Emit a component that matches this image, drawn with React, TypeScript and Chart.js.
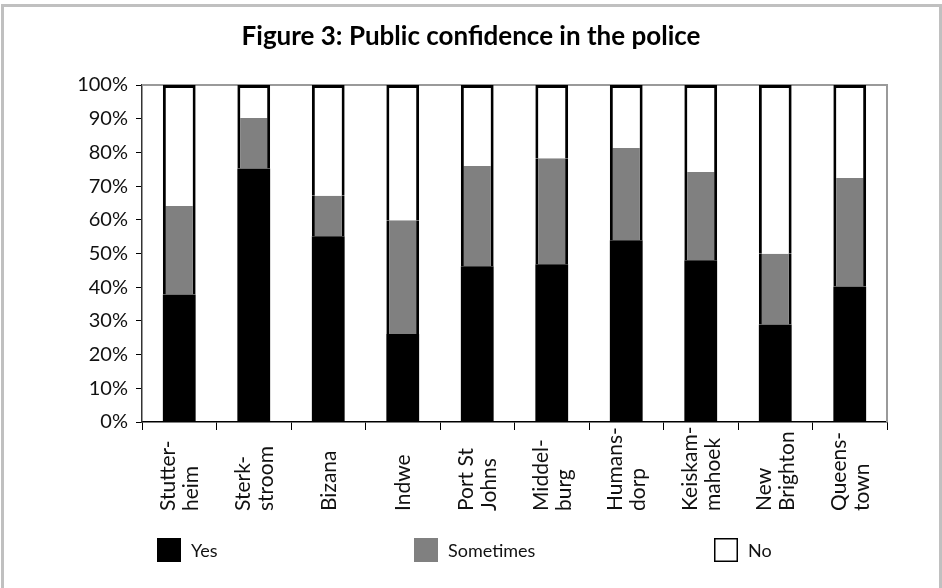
import React, { useEffect, useRef } from "react";
import { Chart, registerables } from "chart.js";

Chart.register(...registerables);

const categories: string[][] = [
  ["Stutter-", "heim"],
  ["Sterk-", "stroom"],
  ["Bizana"],
  ["Indwe"],
  ["Port St", "Johns"],
  ["Middel-", "burg"],
  ["Humans-", "dorp"],
  ["Keiskam-", "mahoek"],
  ["New", "Brighton"],
  ["Queens-", "town"],
];

const yesValues = [37.8, 75.2, 55.1, 26.1, 46.2, 46.8, 53.9, 48.0, 28.9, 40.2];
const sometimesValues = [26.3, 15.0, 12.0, 33.8, 29.8, 31.5, 27.4, 26.2, 21.0, 32.2];
const noValues = [35.9, 9.8, 32.9, 40.1, 24.0, 21.7, 18.7, 25.8, 50.1, 27.6];

const yTicks = [0, 10, 20, 30, 40, 50, 60, 70, 80, 90, 100];

const seriesNames = ["Yes", "Sometimes", "No"];
const titleText = "Figure 3: Public confidence in the police";

const FONT = "Lato, 'Open Sans', sans-serif";

export default function App() {
  const ref = useRef<HTMLCanvasElement | null>(null);

  useEffect(() => {
    document.body.style.margin = "0";
    const canvas = ref.current;
    if (!canvas) return;

    const framePlugin = {
      id: "framePlugin",
      beforeDraw(chart: any) {
        const ctx = chart.ctx;
        ctx.save();
        ctx.fillStyle = "#ffffff";
        ctx.fillRect(0, 0, chart.width, chart.height);
        ctx.strokeStyle = "#c0c0c0";
        ctx.lineWidth = 3;
        ctx.beginPath();
        ctx.moveTo(2.5, chart.height);
        ctx.lineTo(2.5, 5.5);
        ctx.lineTo(chart.width - 1.5, 5.5);
        ctx.lineTo(chart.width - 1.5, chart.height);
        ctx.stroke();
        // title
        ctx.fillStyle = "#000";
        ctx.font = `bold 26px ${FONT}`;
        ctx.textAlign = "center";
        ctx.textBaseline = "middle";
        ctx.fillText(titleText, chart.width / 2, 37);
        ctx.restore();
      },
      beforeDatasetsDraw(chart: any) {
        const { ctx, chartArea } = chart;
        ctx.save();
        ctx.strokeStyle = "#9a9a9a";
        ctx.lineWidth = 2;
        ctx.beginPath();
        ctx.moveTo(chartArea.left, chartArea.top);
        ctx.lineTo(chartArea.right, chartArea.top);
        ctx.lineTo(chartArea.right, chartArea.bottom);
        ctx.stroke();
        ctx.restore();
      },
      afterDraw(chart: any) {
        const { ctx } = chart;
        const xScale = chart.scales.x;
        // rotated category labels, start-aligned at the bottom
        ctx.save();
        ctx.fillStyle = "#111";
        ctx.font = `21px ${FONT}`;
        ctx.textAlign = "left";
        ctx.textBaseline = "alphabetic";
        const pitch = 23;
        const capHalf = 7.6;
        const baseY = xScale.top + 89;
        categories.forEach((lines, i) => {
          const cx = xScale.getPixelForValue(i);
          ctx.save();
          ctx.translate(cx, baseY);
          ctx.rotate(-Math.PI / 2);
          lines.forEach((line, j) => {
            const off = (j - (lines.length - 1) / 2) * pitch + capHalf;
            ctx.fillText(line, 0, off);
          });
          ctx.restore();
        });
        ctx.restore();

        // legend
        const boxX = [157, 414, 714];
        const boxY = 538;
        const box = 24;
        ctx.save();
        ctx.font = `18px ${FONT}`;
        ctx.textBaseline = "middle";
        ctx.textAlign = "left";
        chart.data.datasets.forEach((ds: any, i: number) => {
          const x = boxX[i];
          ctx.fillStyle = ds.backgroundColor;
          ctx.fillRect(x, boxY, box, box);
          if (ds.backgroundColor === "#ffffff") {
            ctx.strokeStyle = "#000";
            ctx.lineWidth = 1.5;
            ctx.strokeRect(x + 0.75, boxY + 0.75, box - 1.5, box - 1.5);
          }
          ctx.fillStyle = "#111";
          ctx.fillText(ds.label, x + box + 10, boxY + box / 2 + 1);
        });
        ctx.restore();
      },
    };

    const chart = new Chart(canvas, {
      type: "bar",
      data: {
        labels: categories.map((c) => c.join(" ")),
        datasets: [
          {
            label: seriesNames[0],
            data: yesValues,
            backgroundColor: "#000000",
            borderColor: "#000000",
            borderWidth: 0,
            borderSkipped: false,
          },
          {
            label: seriesNames[1],
            data: sometimesValues,
            backgroundColor: "#808080",
            borderColor: "#000000",
            borderWidth: { left: 3, right: 3, top: 0, bottom: 0 },
            borderSkipped: false,
          },
          {
            label: seriesNames[2],
            data: noValues,
            backgroundColor: "#ffffff",
            borderColor: "#000000",
            borderWidth: { left: 3, right: 3, top: 3, bottom: 0 },
            borderSkipped: false,
          },
        ],
      },
      options: {
        responsive: false,
        animation: false,
        devicePixelRatio: 1,
        layout: { padding: { left: 0, right: 55, top: 85, bottom: 0 } },
        datasets: {
          bar: { barPercentage: 0.44, categoryPercentage: 1.0 },
        },
        plugins: {
          legend: { display: false },
          tooltip: { enabled: false },
          title: { display: false },
        },
        scales: {
          x: {
            stacked: true,
            grid: {
              display: true,
              drawOnChartArea: false,
              drawTicks: true,
              tickLength: 8,
              color: "#000",
              offset: true,
            },
            border: { display: true, color: "#000", width: 1.5 },
            ticks: { display: false },
            afterFit(scale: any) {
              scale.height = 166;
            },
          },
          y: {
            stacked: true,
            min: 0,
            max: 100,
            afterBuildTicks(scale: any) {
              scale.ticks = yTicks.map((v) => ({ value: v }));
            },
            ticks: {
              callback: (v: any) => `${v}%`,
              color: "#111",
              font: { family: FONT, size: 20 },
              padding: 8,
            },
            grid: {
              drawOnChartArea: false,
              drawTicks: true,
              tickLength: 6,
              color: "#000",
            },
            border: { display: true, color: "#333", width: 1.5 },
            afterFit(scale: any) {
              scale.width = 142;
            },
          },
        },
      },
      plugins: [framePlugin],
    });

    return () => chart.destroy();
  }, []);

  return (
    <canvas
      ref={ref}
      width={942}
      height={588}
      style={{ display: "block", width: 942, height: 588 }}
    />
  );
}
